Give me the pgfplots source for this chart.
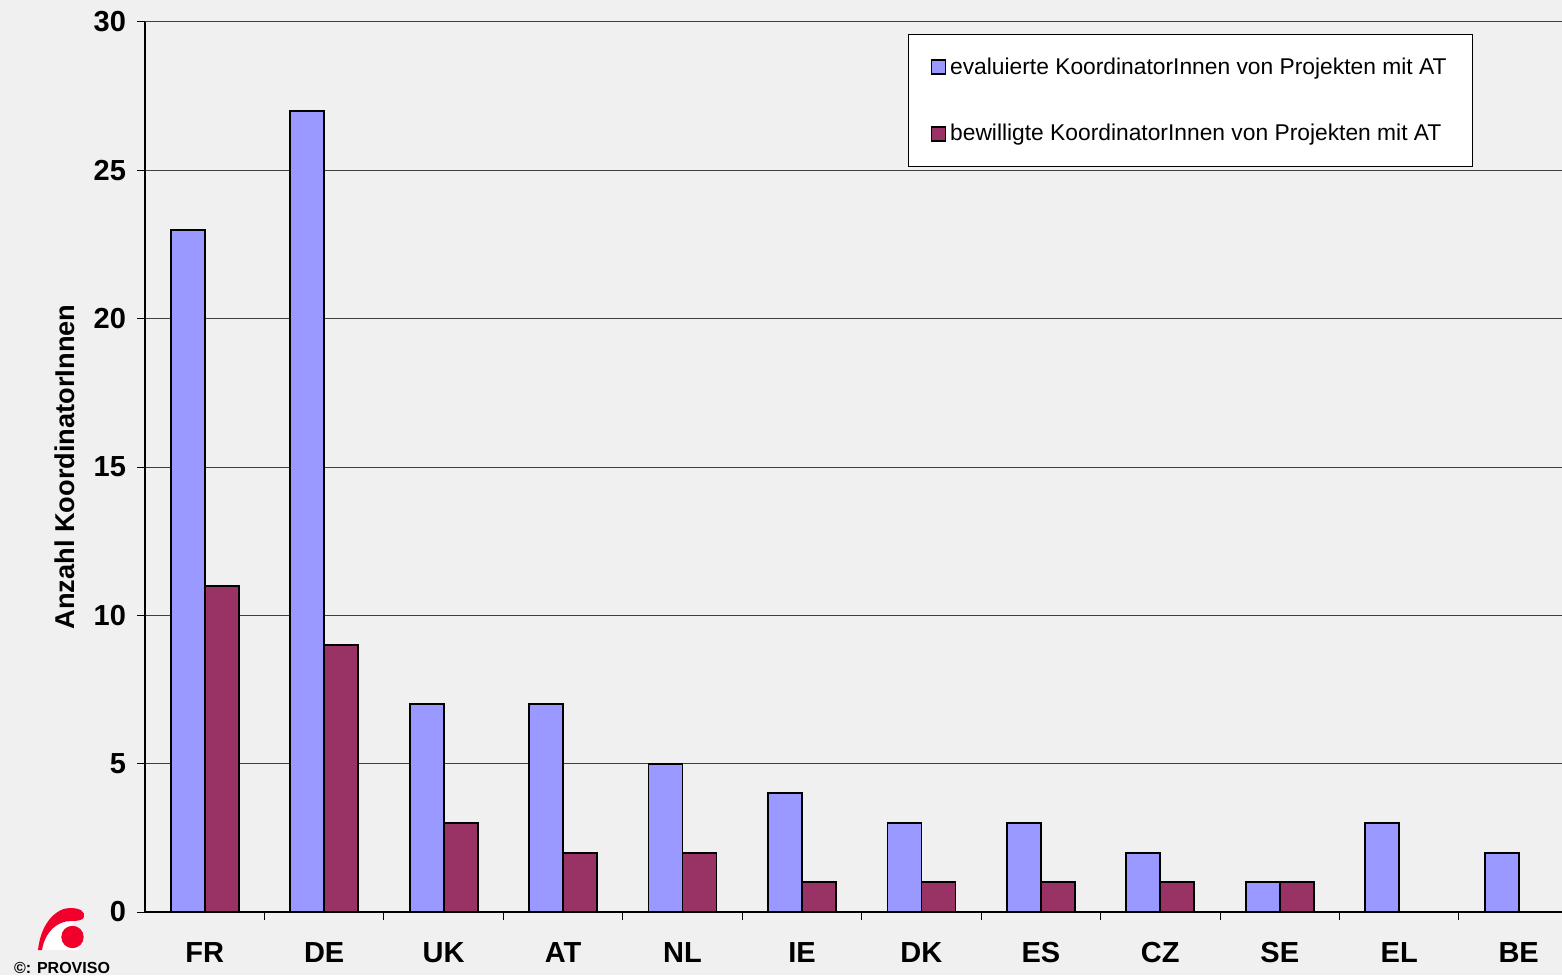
\documentclass[border=0pt]{standalone}
\usepackage{pgfplots}
\pgfplotsset{compat=1.18}
\usepackage{fontspec}
\setmainfont{Liberation Sans}
\definecolor{bgc}{HTML}{F0F0F0}
\definecolor{evalblue}{HTML}{9999FF}
\definecolor{bewplum}{HTML}{993366}
\definecolor{logored}{HTML}{F0002A}

\begin{document}
\begin{tikzpicture}[x=1pt,y=1pt]
% page background (1pt = 2px of the reference)
\fill[bgc] (-72.5,-31.5) rectangle (708.5,456);
\useasboundingbox (-72.5,-31.5) rectangle (708.5,456);

\begin{axis}[
    at={(0,0)}, anchor=south west,
    scale only axis,
    width=708.5pt, height=445pt,
    xmin=-0.5, xmax=11.363,
    ymin=0, ymax=30,
    ybar=0pt, bar width=17pt,
    axis x line=bottom, axis y line=left,
    axis line style={-, black, line width=0.7pt},
    ytick={0,5,...,30},
    ymajorgrids=true,
    grid style={black!75, line width=0.5pt},
    tick align=outside,
    major tick length=4pt,
    ytick style={black, line width=0.5pt},
    xtick={0,...,11},
    xticklabels={FR,DE,UK,AT,NL,IE,DK,ES,CZ,SE,EL,BE},
    xtick style={draw=none},
    extra x ticks={0.5,1.5,...,10.5},
    extra x tick labels={},
    extra x tick style={xtick style={draw=black, line width=0.5pt}},
    /pgf/number format/assume math mode=true,
    ticklabel style={font=\bfseries\fontsize{14.5}{16}\selectfont},
    xticklabel style={yshift=-7.5pt},
    yticklabel style={xshift=-2pt},
    ylabel={Anzahl KoordinatorInnen},
    ylabel style={at={(axis description cs:-0.0565,0.5)}, anchor=center,
        font=\bfseries\fontsize{13.6}{15}\selectfont},
    legend style={at={(rel axis cs:0.5385,0.9865)}, anchor=north west,
        draw=black, fill=white, line width=0.5pt,
        font=\fontsize{11.4}{13}\selectfont,
        inner xsep=11pt, inner ysep=9.5pt, row sep=19.5pt},
    legend cell align=left,
    legend image code/.code={\draw[#1, line width=0.8pt] (0pt,-3.5pt) rectangle (7pt,3.5pt);},
]
\addplot[fill=evalblue, draw=black, line width=0.9pt] coordinates {
    (0,23)(1,27)(2,7)(3,7)(4,5)(5,4)(6,3)(7,3)(8,2)(9,1)(10,3)(11,2)
};
\addplot[fill=bewplum, draw=black, line width=0.9pt] coordinates {
    (0,11)(1,9)(2,3)(3,2)(4,2)(5,1)(6,1)(7,1)(8,1)(9,1)
};
\legend{evaluierte KoordinatorInnen von Projekten mit AT,
        bewilligte KoordinatorInnen von Projekten mit AT}
\end{axis}

% PROVISO logo
\fill[white] (-53.5,-19) .. controls (-52,-5) and (-44,1) .. (-37.5,1) -- (-33,-19) -- cycle;
\fill[logored] (-53.5,-19) .. controls (-52,-5) and (-44,2) .. (-37.5,2)
    .. controls (-32,2) and (-30,0) .. (-30.5,-2.5)
    .. controls (-31,-4) and (-33,-4.5) .. (-37,-4.5)
    .. controls (-44,-4.5) and (-50,-10) .. (-51.5,-19) -- cycle;
\fill[logored] (-36.25,-12.5) circle (5.6);
\node[font=\bfseries\fontsize{8}{9}\selectfont] at (-41.5,-28) {©: PROVISO};
\end{tikzpicture}
\end{document}
